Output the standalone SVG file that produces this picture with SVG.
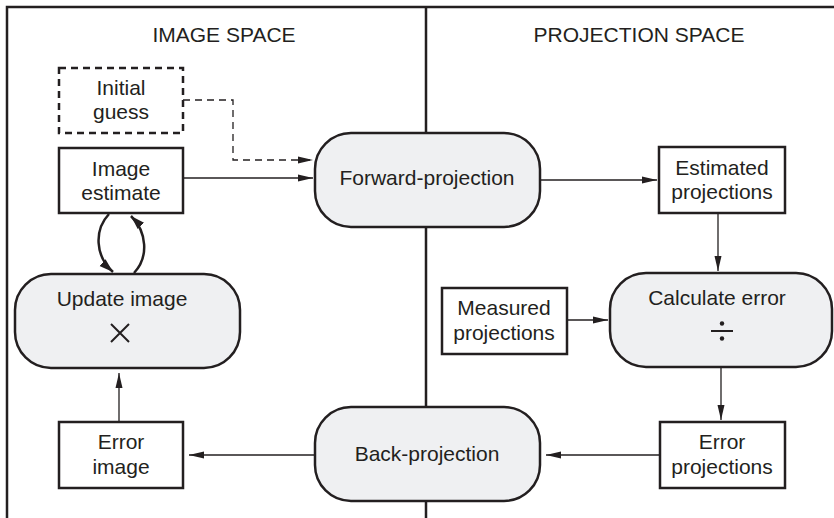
<svg xmlns="http://www.w3.org/2000/svg" width="834" height="518" viewBox="0 0 834 518">
<style>
  text { font-family: "Liberation Sans", Arial, Helvetica, sans-serif; font-size: 21px; fill: #231f20; text-anchor: middle; }
  .box { fill: #ffffff; stroke: #231f20; stroke-width: 2.5; }
  .dbox { fill: #ffffff; stroke: #231f20; stroke-width: 2.5; stroke-dasharray: 7 5; }
  .proc { fill: #eff0f2; stroke: #231f20; stroke-width: 2.5; }
  .frame { fill: none; stroke: #231f20; stroke-width: 2.5; }
  .conn { fill: none; stroke: #231f20; stroke-width: 1.3; }
  .dash { fill: none; stroke: #231f20; stroke-width: 1.3; stroke-dasharray: 7 5; }
  .loop { fill: none; stroke: #231f20; stroke-width: 2.5; }
</style>
<defs>
  <marker id="arr" markerUnits="userSpaceOnUse" markerWidth="16" markerHeight="10" refX="15" refY="5" orient="auto">
    <path d="M0,1.5 L15,5 L0,8.5 Z" fill="#231f20"/>
  </marker>
  <marker id="arrL" markerUnits="userSpaceOnUse" markerWidth="16" markerHeight="12" refX="14" refY="6" orient="auto">
    <path d="M0,1.5 L14,6 L0,10.5 Z" fill="#231f20"/>
  </marker>
</defs>

<g id="frame">
  <path class="frame" d="M7,518 V7 H834"/>
  <line class="frame" x1="426" y1="7" x2="426" y2="518"/>
  <text x="224" y="42">IMAGE SPACE</text>
  <text x="639" y="42">PROJECTION SPACE</text>
</g>

<g id="connectors">
  <path class="dash" d="M183,100 H233 V160 H313" marker-end="url(#arr)"/>
  <path class="conn" d="M183,178 H313" marker-end="url(#arr)"/>
  <path class="conn" d="M540,180 H657" marker-end="url(#arr)"/>
  <path class="conn" d="M718,213 V271" marker-end="url(#arr)"/>
  <path class="conn" d="M567,320 H608" marker-end="url(#arr)"/>
  <path class="conn" d="M721,367 V420" marker-end="url(#arr)"/>
  <path class="conn" d="M660,455 H546" marker-end="url(#arr)"/>
  <path class="conn" d="M315,455 H189" marker-end="url(#arr)"/>
  <path class="conn" d="M119,422 V373" marker-end="url(#arr)"/>
  <path class="loop" d="M109,214 C94,230 95,256 113,272" marker-end="url(#arrL)"/>
  <path class="loop" d="M134,273 C149,257 147,232 131,216" marker-end="url(#arrL)"/>
</g>

<g id="initial-guess">
  <rect class="dbox" x="59" y="68" width="124" height="65"/>
  <text x="121" y="95">Initial</text>
  <text x="121" y="119">guess</text>
</g>

<g id="image-estimate">
  <rect class="box" x="59" y="148" width="124" height="65"/>
  <text x="121" y="176">Image</text>
  <text x="121" y="200">estimate</text>
</g>

<g id="forward-projection">
  <rect class="proc" x="315" y="133" width="225" height="94" rx="36" ry="36"/>
  <text x="427" y="185">Forward-projection</text>
</g>

<g id="estimated-projections">
  <rect class="box" x="659" y="147" width="126" height="66"/>
  <text x="722" y="175">Estimated</text>
  <text x="722" y="199">projections</text>
</g>

<g id="measured-projections">
  <rect class="box" x="442" y="288" width="125" height="66"/>
  <text x="504" y="315">Measured</text>
  <text x="504" y="340">projections</text>
</g>

<g id="calculate-error">
  <rect class="proc" x="610" y="273" width="222" height="94" rx="36" ry="36"/>
  <text x="717" y="305">Calculate error</text>
  <line x1="711" y1="331" x2="733" y2="331" stroke="#231f20" stroke-width="2"/>
  <circle cx="722" cy="323.5" r="2.2" fill="#231f20"/>
  <circle cx="722" cy="338.5" r="2.2" fill="#231f20"/>
</g>

<g id="error-projections">
  <rect class="box" x="660" y="422" width="125" height="66"/>
  <text x="722" y="449">Error</text>
  <text x="722" y="474">projections</text>
</g>

<g id="back-projection">
  <rect class="proc" x="315" y="407" width="225" height="94" rx="36" ry="36"/>
  <text x="427" y="461">Back-projection</text>
</g>

<g id="error-image">
  <rect class="box" x="59" y="422" width="124" height="66"/>
  <text x="121" y="449">Error</text>
  <text x="121" y="474">image</text>
</g>

<g id="update-image">
  <rect class="proc" x="15" y="274" width="225" height="94" rx="36" ry="36"/>
  <text x="122" y="306">Update image</text>
  <path d="M111,324 L129,342 M129,324 L111,342" stroke="#231f20" stroke-width="2" fill="none"/>
</g>
</svg>
